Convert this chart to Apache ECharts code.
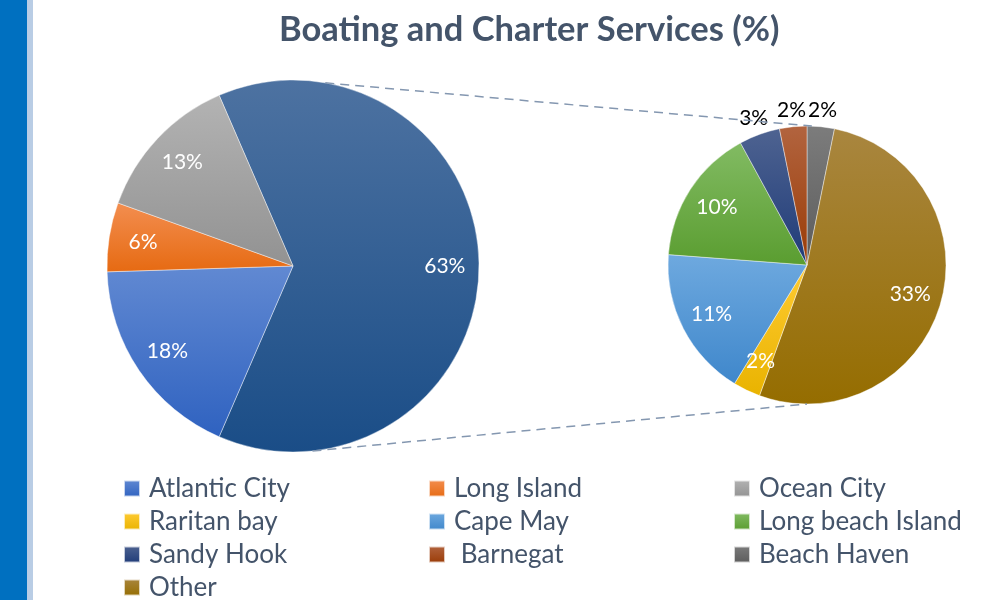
<!DOCTYPE html>
<html style="height: 100%">
<head>
<meta charset="utf-8">
<script src="https://cdn.jsdelivr.net/npm/echarts@6/dist/echarts.min.js"></script>
</head>
<body style="height: 100%; margin: 0; background: #fff">
<div id="container" style="width: 998px; height: 600px"></div>
<script type="text/javascript">
// legend order
const categories = ['Atlantic City', 'Long Island', 'Ocean City', 'Raritan bay', 'Cape May',
  'Long beach Island', 'Sandy Hook', ' Barnegat', 'Beach Haven', 'Other'];
const values = [18, 6, 13, 2, 11, 10, 3, 2, 2, 33];

// which slices sit in each pie (clockwise from the start angle)
const firstPie = ['Atlantic City', 'Long Island', 'Ocean City'];
const secondPie = ['Beach Haven', 'Other', 'Raritan bay', 'Cape May', 'Long beach Island', 'Sandy Hook', ' Barnegat'];
const outsideLabels = ['Beach Haven', 'Sandy Hook', ' Barnegat'];

const colors = {
  'Atlantic City': ['#6189d2', '#2f62c0'],
  'Long Island': ['#f38e50', '#e66a12'],
  'Ocean City': ['#b3b3b3', '#929292'],
  'Raritan bay': ['#ffcb33', '#e9b300'],
  'Cape May': ['#6ea9df', '#3f87cb'],
  'Long beach Island': ['#82bb63', '#5a9d30'],
  'Sandy Hook': ['#4e6391', '#1f3b78'],
  ' Barnegat': ['#b2643f', '#9a3b06'],
  'Beach Haven': ['#7c7c7c', '#5c5c5c'],
  'Other': ['#a9863f', '#956d00'],
  'combined': ['#4d72a1', '#1a4d87']
};

const LEFT = { cx: 293, cy: 266, r: 186 };
const RIGHT = { cx: 807, cy: 265, r: 139 };

function valueOf(name) { return values[categories.indexOf(name)]; }
function grad(name) {
  const c = colors[name];
  return new echarts.graphic.LinearGradient(0, 0, 0, 1, [
    { offset: 0, color: c[0] }, { offset: 1, color: c[1] }
  ]);
}

const combined = secondPie.reduce(function (s, n) { return s + valueOf(n); }, 0);
const leftData = [{ name: 'combined', value: combined }].concat(firstPie.map(function (n) {
  return { name: n, value: valueOf(n) };
}));
const rightData = secondPie.map(function (n) { return { name: n, value: valueOf(n) }; });

// combined slice is centred on 3 o'clock
const leftStart = 360 * combined / 100 / 2;

function pt(c, degFromTop) {
  const a = degFromTop * Math.PI / 180;
  return [c.cx + c.r * Math.sin(a), c.cy - c.r * Math.cos(a)];
}

const font = 'Lato';
const labelStyle = { show: true, position: 'inside', color: '#fff', fontSize: 21, fontFamily: font, formatter: '{c}%' };
const blank = { color: 'rgba(0,0,0,0)', borderWidth: 0 };

var myChart = echarts.init(document.getElementById('container'));
var option = {
  animation: false,
  title: {
    text: 'Boating and Charter Services (%)',
    left: 279,
    top: 12,
    padding: 0,
    textStyle: { fontFamily: font, fontSize: 34.5, fontWeight: 'bold', color: '#44546a' }
  },
  legend: {
    data: categories,
    left: 123,
    top: 472,
    width: 930,
    padding: 0,
    orient: 'horizontal',
    icon: 'rect',
    itemWidth: 16,
    itemHeight: 16,
    itemGap: 0,
    selectedMode: false,
    textStyle: {
      fontFamily: font, fontSize: 26, color: '#44546a',
      width: 279, lineHeight: 33, padding: [0, 0, 0, 4]
    }
  },
  series: [
    {
      type: 'pie', center: [LEFT.cx, LEFT.cy], radius: [0, LEFT.r],
      startAngle: leftStart, clockwise: true, avoidLabelOverlap: false, silent: true,
      label: { show: false }, labelLine: { show: false },
      itemStyle: { borderColor: 'rgba(255,255,255,0.7)', borderWidth: 0.6 },
      data: leftData.map(function (d) { return { name: d.name, value: d.value, itemStyle: { color: grad(d.name) } }; })
    },
    {
      type: 'pie', center: [RIGHT.cx, RIGHT.cy], radius: [0, RIGHT.r],
      startAngle: 90, clockwise: true, avoidLabelOverlap: false, silent: true,
      label: { show: false }, labelLine: { show: false },
      itemStyle: { borderColor: 'rgba(255,255,255,0.7)', borderWidth: 0.6 },
      data: rightData.map(function (d) { return { name: d.name, value: d.value, itemStyle: { color: grad(d.name) } }; })
    },
    // label rings
    {
      type: 'pie', center: [LEFT.cx, LEFT.cy], radius: [LEFT.r * 0.6, LEFT.r],
      startAngle: leftStart, avoidLabelOverlap: false, silent: true,
      itemStyle: blank, label: labelStyle, labelLine: { show: false },
      data: leftData
    },
    {
      type: 'pie', center: [RIGHT.cx, RIGHT.cy], radius: [RIGHT.r * 0.5, RIGHT.r],
      startAngle: 90, avoidLabelOverlap: false, silent: true,
      itemStyle: blank, labelLine: { show: false },
      data: rightData.map(function (d) {
        return { name: d.name, value: d.value, label: Object.assign({}, labelStyle, { show: outsideLabels.indexOf(d.name) < 0 }) };
      })
    },
    {
      type: 'pie', center: [RIGHT.cx, RIGHT.cy], radius: [RIGHT.r * 0.98, RIGHT.r * 1.22],
      startAngle: 90, avoidLabelOverlap: false, silent: true,
      itemStyle: blank, labelLine: { show: false },
      data: rightData.map(function (d) {
        return { name: d.name, value: d.value, label: Object.assign({}, labelStyle, { color: '#000', show: outsideLabels.indexOf(d.name) >= 0 }) };
      })
    }
  ],
  graphic: {
    elements: [
      { type: 'rect', shape: { x: 0, y: 0, width: 27, height: 600 }, style: { fill: '#0070c0' }, silent: true },
      { type: 'rect', shape: { x: 27, y: 0, width: 6, height: 600 }, style: { fill: '#b9cde5' }, silent: true },
      {
        type: 'line', silent: true, z: 10,
        shape: { x1: pt(LEFT, 10)[0], y1: pt(LEFT, 10)[1], x2: pt(RIGHT, 2)[0], y2: pt(RIGHT, 2)[1] },
        style: { stroke: '#8497b0', lineWidth: 1.5, lineDash: [9, 6] }
      },
      {
        type: 'line', silent: true, z: 10,
        shape: { x1: pt(LEFT, 174)[0], y1: pt(LEFT, 174)[1], x2: pt(RIGHT, 180)[0], y2: pt(RIGHT, 180)[1] },
        style: { stroke: '#8497b0', lineWidth: 1.5, lineDash: [9, 6] }
      }
    ]
  }
};
myChart.setOption(option);
</script>
</body>
</html>
